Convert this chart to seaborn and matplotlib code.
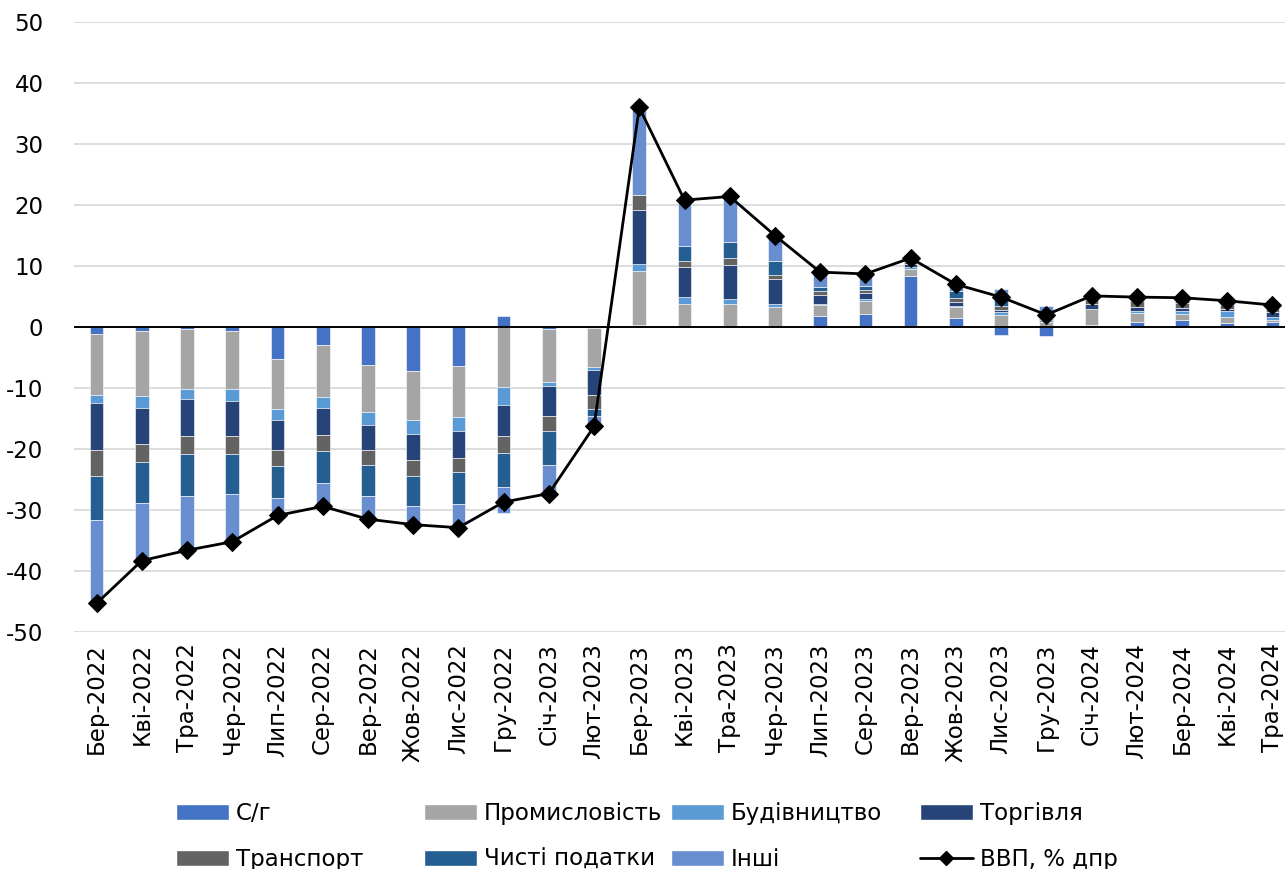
import numpy as np
import pandas as pd
import matplotlib
matplotlib.use("Agg")
import matplotlib.pyplot as plt
import seaborn as sns
from matplotlib.patches import Patch
from matplotlib.lines import Line2D

# Дані (в.п. внеску у зміну ВВП, % дпр)
months = ['Бер-2022', 'Кві-2022', 'Тра-2022', 'Чер-2022', 'Лип-2022', 'Сер-2022',
          'Вер-2022', 'Жов-2022', 'Лис-2022', 'Гру-2022', 'Січ-2023', 'Лют-2023',
          'Бер-2023', 'Кві-2023', 'Тра-2023', 'Чер-2023', 'Лип-2023', 'Сер-2023',
          'Вер-2023', 'Жов-2023', 'Лис-2023', 'Гру-2023', 'Січ-2024', 'Лют-2024',
          'Бер-2024', 'Кві-2024', 'Тра-2024']

agri = [-1.1, -0.6, -0.4, -0.6, -5.2, -2.9, -6.2, -7.2, -6.4, 1.8, -0.3, -0.2,
        0.3, 0.0, 0.0, 0.0, 1.75, 2.2, 8.3, 1.4, -1.25, -1.5, 0.3, 0.9, 1.1, 0.65, 0.9]
industry = [-10.1, -10.7, -9.7, -9.6, -8.2, -8.5, -7.8, -8.0, -8.3, -9.8, -8.7, -6.4,
            8.9, 3.8, 3.8, 3.2, 1.8, 2.0, 1.2, 1.9, 2.0, 0.9, 2.6, 1.4, 1.0, 1.0, 0.3]
construction = [-1.2, -1.9, -1.7, -1.9, -1.8, -1.8, -2.0, -2.4, -2.4, -3.0, -0.6, -0.4,
                1.2, 1.2, 0.8, 0.6, 0.2, 0.4, 0.3, 0.2, 0.4, 0.3, 0.1, 0.3, 0.45, 0.9, 0.4]
trade = [-7.8, -5.9, -6.0, -5.7, -5.0, -4.5, -4.2, -4.2, -4.3, -5.0, -5.0, -4.2,
         8.7, 4.9, 5.5, 4.0, 1.5, 0.9, 0.5, 0.6, 0.45, 0.15, 0.7, 0.7, 0.55, 0.4, 0.8]
transport = [-4.2, -3.0, -3.1, -3.1, -2.6, -2.7, -2.4, -2.6, -2.4, -2.8, -2.5, -2.3,
             2.6, 1.0, 1.2, 0.8, 0.65, 0.5, 0.3, 0.7, 0.65, 0.2, 0.8, 0.9, 0.8, 0.7, 0.7]
taxes = [-7.2, -6.8, -6.8, -6.5, -5.3, -5.2, -5.1, -4.9, -5.2, -5.7, -5.5, -1.1,
         0.0, 2.3, 2.6, 2.2, 0.7, 0.75, 0.3, 1.1, 1.25, 0.3, 0.2, 0.2, 0.3, 0.2, 0.15]
other = [-13.6, -9.3, -8.9, -7.8, -3.0, -3.8, -3.4, -2.9, -3.7, -4.2, -4.7, -1.6,
         14.4, 7.7, 7.4, 3.9, 2.2, 1.8, 0.3, 1.0, 1.5, 1.65, 0.5, 0.5, 0.55, 0.35, 0.4]
gdp = [-45.3, -38.3, -36.6, -35.2, -30.9, -29.4, -31.5, -32.4, -32.9, -28.7, -27.3, -16.3,
       36.0, 20.8, 21.4, 15.0, 9.0, 8.7, 11.3, 7.0, 4.9, 2.0, 5.1, 4.9, 4.8, 4.3, 3.6]

series_names = ['С/г', 'Промисловість', 'Будівництво', 'Торгівля',
                'Транспорт', 'Чисті податки', 'Інші']
series_values = [agri, industry, construction, trade, transport, taxes, other]
colors = ['#4472C4', '#A5A5A5', '#5B9BD5', '#264478', '#636363', '#255E91', '#698ED0']

sns.set_theme(style="white")
plt.rcParams['font.family'] = ['DejaVu Sans']
plt.rcParams['axes.unicode_minus'] = False
plt.rcParams['text.color'] = 'black'

W, H = 1285, 869
fig = plt.figure(figsize=(W / 100, H / 100), dpi=100)
ax = fig.add_axes([74 / W, 1 - 632 / H, (1295 - 74) / W, (632 - 22) / H])

x = np.arange(len(months))
pos_base = np.zeros(len(months))
neg_base = np.zeros(len(months))
for name, vals, col in zip(series_names, series_values, colors):
    v = np.array(vals, dtype=float)
    bottom = np.where(v >= 0, pos_base, neg_base)
    ax.bar(x, v, bottom=bottom, width=0.3, color=col, edgecolor='white',
           linewidth=0.4, zorder=2)
    pos_base += np.where(v >= 0, v, 0)
    neg_base += np.where(v < 0, v, 0)

df_gdp = pd.DataFrame({'x': x, 'gdp': gdp})
sns.lineplot(data=df_gdp, x='x', y='gdp', ax=ax, color='black', linewidth=2,
             marker='D', markersize=9, markeredgecolor='black', zorder=4)

ax.axhline(0, color='black', linewidth=1.4, zorder=3)
ax.set_ylim(-50, 50)
ax.set_yticks(range(-50, 51, 10))
ax.set_xlim(-0.5, len(months) - 0.5)
ax.set_xticks(x)
ax.set_xticklabels(months, rotation=90)
ax.yaxis.grid(True, color='#D9D9D9', linewidth=1.3, zorder=0)
ax.set_axisbelow(True)
for s in ax.spines.values():
    s.set_visible(False)
ax.tick_params(axis='both', length=0, labelsize=16.5, colors='black')
ax.tick_params(axis='y', pad=22)
ax.tick_params(axis='x', pad=8)
ax.set_xlabel('')
ax.set_ylabel('')

# Легенда: 4 колонки рівної ширини
handles = [Patch(facecolor=c) for c in colors]
handles.append(Line2D([], [], color='black', linewidth=2, marker='D', markersize=7))
labels = series_names + ['ВВП, % дпр']
cols = [[0, 4], [1, 5], [2, 6], [3, 7]]
col_x = [176, 424, 671, 920]
for cx, idx in zip(col_x, cols):
    fig.legend([handles[i] for i in idx], [labels[i] for i in idx],
               loc='upper left', bbox_to_anchor=(cx / W, 1 - 802 / H),
               frameon=False, fontsize=16.5, handlelength=2.3, handleheight=0.7,
               handletextpad=0.3, labelspacing=1.0, borderpad=0.0,
               borderaxespad=0.0)

fig.savefig('out.png', dpi=100)
